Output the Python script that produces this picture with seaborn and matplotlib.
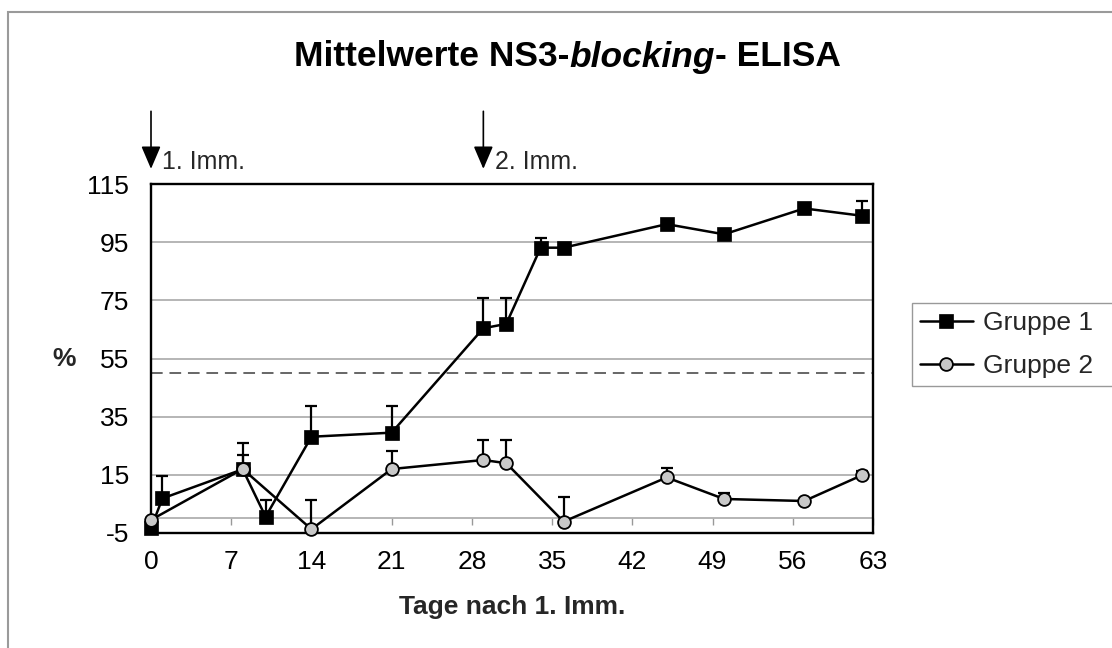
import numpy as np
import pandas as pd
import matplotlib
matplotlib.use("Agg")
import matplotlib.pyplot as plt
import seaborn as sns
from matplotlib.offsetbox import TextArea, HPacker, AnchoredOffsetbox
from matplotlib.patches import Rectangle
from matplotlib.lines import Line2D

# ---------------- data ----------------
days_g1 = [0, 1, 8, 10, 14, 21, 29, 31, 34, 36, 45, 50, 57, 62]
vals_g1 = [-3.3, 6.9, 16.9, 0.6, 28.1, 29.5, 65.4, 66.9, 93.1, 93.1, 101.2, 97.7, 106.6, 104.1]
err_g1 = [0, 7.7, 9.0, 5.7, 10.7, 9.3, 10.5, 9.0, 3.3, 0, 0, 0, 0, 5.2]

days_g2 = [0, 8, 14, 21, 29, 31, 36, 45, 50, 57, 62]
vals_g2 = [-0.5, 17.0, -3.7, 17.0, 20.1, 19.0, -1.1, 14.1, 6.7, 6.0, 14.8]
err_g2 = [0, 4.8, 10.0, 6.2, 6.9, 8.0, 8.4, 3.1, 2.1, 0, 1.6]

series_names = ["Gruppe 1", "Gruppe 2"]
threshold = 50
imm_days = [0, 29]
imm_labels = ["1. Imm.", "2. Imm."]
x_ticks = list(range(0, 64, 7))
y_ticks = list(range(-5, 116, 20))

title_parts = ["Mittelwerte NS3-", "blocking", "- ELISA"]
x_label = "Tage nach 1. Imm."
y_label = "%"

# ---------------- style ----------------
sns.set_style("white")
plt.rcParams["font.family"] = ["Liberation Sans", "DejaVu Sans"]
plt.rcParams["axes.unicode_minus"] = False
FS = 19
GRID = "#b0b0b0"
LW = 1.8
SQ = dict(marker="s", ms=10, mfc="black", mec="black", mew=0.5)
CI = dict(marker="o", ms=9.2, mfc="#c8c8c8", mec="black", mew=1.3)

fig = plt.figure(figsize=(11.12, 6.48), dpi=100)
fig.patch.set_facecolor("white")
ax = fig.add_axes([151 / 1112, 1 - 533 / 648, 722 / 1112, 349 / 648])

df1 = pd.DataFrame({"Tag": days_g1, "Wert": vals_g1})
df2 = pd.DataFrame({"Tag": days_g2, "Wert": vals_g2})

# error bars (upward only)
def up_errors(days, vals, errs):
    d = np.array(days, float)
    v = np.array(vals, float)
    e = np.array(errs, float)
    m = e > 0
    eb = ax.errorbar(d[m], v[m], yerr=[np.zeros(m.sum()), e[m]], fmt="none",
                     ecolor="black", elinewidth=1.6, capsize=4.6, capthick=1.6,
                     zorder=2.5)
    eb[1][0].set_visible(False)

up_errors(days_g1, vals_g1, err_g1)
up_errors(days_g2, vals_g2, err_g2)

sns.lineplot(data=df1, x="Tag", y="Wert", ax=ax, color="black", lw=LW,
             estimator=None, sort=False, zorder=3, label=series_names[0],
             clip_on=False, **SQ)
sns.lineplot(data=df2, x="Tag", y="Wert", ax=ax, color="black", lw=LW,
             estimator=None, sort=False, zorder=4, label=series_names[1],
             clip_on=False, **CI)

ax.axhline(threshold, color="#666666", lw=1.4, ls=(0, (6, 3.5)), zorder=1.5)

ax.set_xlim(0, 63)
ax.set_ylim(-5, 115)
ax.set_xticks(x_ticks)
ax.set_yticks(y_ticks)
ax.set_axisbelow(True)
ax.yaxis.grid(True, color=GRID, lw=1.3)
ax.xaxis.grid(False)
ax.tick_params(axis="x", length=0, pad=12, labelsize=FS, colors="black")
ax.tick_params(axis="y", direction="out", length=6, width=1.1, color="#888888",
               pad=10, labelsize=FS, labelcolor="black")
for s in ax.spines.values():
    s.set_visible(True)
    s.set_color("black")
    s.set_linewidth(1.7)

# x axis crossing line at 0 with tick marks
sec = ax.secondary_xaxis(5 / 120)
sec.set_xticks(x_ticks)
sec.tick_params(direction="out", length=5, width=1.0, color="#999999",
                labelbottom=False, labeltop=False)
for s in sec.spines.values():
    s.set_color(GRID)
    s.set_linewidth(1.3)

ax.set_xlabel(x_label, fontsize=FS, fontweight="bold", va="center")
ax.xaxis.set_label_coords(0.5, -0.212)
ax.set_ylabel(y_label, fontsize=FS, fontweight="bold", rotation=0,
              ha="center", va="center")
ax.yaxis.set_label_coords(-0.12, 0.5)

# immunisation arrows
for d, lab in zip(imm_days, imm_labels):
    ax.annotate("", xy=(d, 120.2), xytext=(d, 140), xycoords="data",
                arrowprops=dict(arrowstyle="-|>,head_length=0.7,head_width=0.3",
                                color="black", lw=1.2, mutation_scale=20,
                                shrinkA=0, shrinkB=0),
                annotation_clip=False)
    ax.text(d + 1.0, 120.3, lab, fontsize=18, va="baseline", ha="left",
            clip_on=False)

# legend
leg = ax.legend(handles=[
    Line2D([], [], color="black", lw=LW, **SQ),
    Line2D([], [], color="black", lw=LW, **CI)],
    labels=series_names, loc="upper left", mode="expand",
    bbox_to_anchor=(912 / 1112, 0, 215 / 1112, 1 - 303 / 648),
    bbox_transform=fig.transFigure,
    fontsize=FS, frameon=True, fancybox=False, framealpha=1, edgecolor="#999999",
    handlelength=2.0, handletextpad=0.4, labelspacing=0.72, borderpad=0.3,
    borderaxespad=0)
leg.get_frame().set_linewidth(1.0)

# title with mixed styles
tp = dict(fontsize=25.5, fontweight="bold", color="black")
parts = [TextArea(title_parts[0], textprops=tp),
         TextArea(title_parts[1], textprops=dict(tp, style="italic")),
         TextArea(title_parts[2], textprops=tp)]
box = HPacker(children=parts, align="baseline", pad=0, sep=0)
anch = AnchoredOffsetbox(loc="center", child=box, pad=0, borderpad=0,
                         bbox_to_anchor=(0.51, 1 - 57 / 648),
                         bbox_transform=fig.transFigure, frameon=False)
fig.add_artist(anch)

# outer chart frame (left/top visible)
fig.add_artist(Rectangle((8 / 1112, -0.1), 1.2, 1.1 - 12 / 648, transform=fig.transFigure,
                         fill=False, edgecolor="#9a9a9a", lw=1.5))

fig.savefig("out.png", dpi=100, facecolor="white")
